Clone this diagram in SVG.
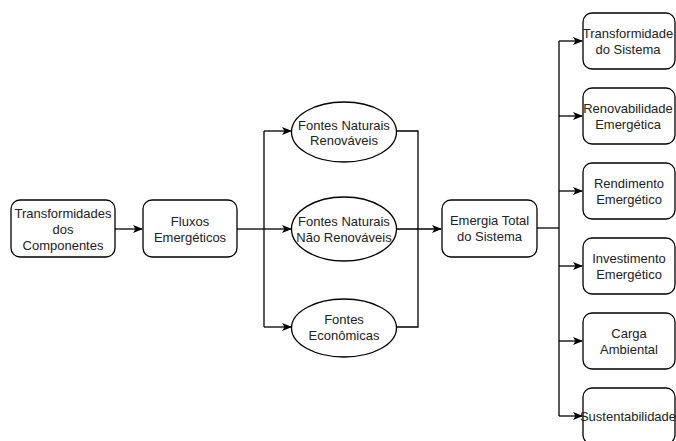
<svg xmlns="http://www.w3.org/2000/svg" width="676" height="441" viewBox="0 0 676 441">
<defs>
<marker id="arr" markerWidth="10" markerHeight="8" refX="9" refY="4" orient="auto" markerUnits="userSpaceOnUse">
<path d="M0,0 L10,4 L0,8 L2.5,4 Z" fill="#000"/>
</marker>
<style>
.box{fill:#fff;stroke:#000;stroke-width:1.3}
.t{font-family:"Liberation Sans",Arial,sans-serif;font-size:13px;fill:#222;text-anchor:middle}
.c{fill:none;stroke:#000;stroke-width:1.3}
.a{fill:none;stroke:#000;stroke-width:1.3;marker-end:url(#arr)}
</style>
</defs>
<rect width="676" height="441" fill="#fff"/>
<g id="connectors">
<path class="a" d="M115,229 H142"/>
<path class="c" d="M237,229 H264"/>
<path class="c" d="M264,131 V327"/>
<path class="a" d="M264,131 H291"/>
<path class="a" d="M264,229 H291"/>
<path class="a" d="M264,327 H291"/>
<path class="c" d="M396,131 H418 V327 H396"/>
<path class="a" d="M396,229 H441"/>
<path class="c" d="M537,228 H559"/>
<path class="c" d="M559,41 V416"/>
<path class="a" d="M559,41 H582"/>
<path class="a" d="M559,116 H582"/>
<path class="a" d="M559,191 H582"/>
<path class="a" d="M559,266 H582"/>
<path class="a" d="M559,341 H582"/>
<path class="a" d="M559,416 H582"/>
</g>
<g id="n-transformidades">
<rect class="box" x="11" y="200" width="104" height="57" rx="9"/>
<text class="t" x="63" y="218">Transformidades</text>
<text class="t" x="63" y="234">dos</text>
<text class="t" x="63" y="250">Componentes</text>
</g>
<g id="n-fluxos">
<rect class="box" x="143" y="200" width="94" height="57" rx="9"/>
<text class="t" x="190" y="225.5">Fluxos</text>
<text class="t" x="190" y="241.5">Emergéticos</text>
</g>
<g id="n-renovaveis">
<ellipse class="box" cx="344" cy="132" rx="52.5" ry="30"/>
<text class="t" x="344" y="129.5">Fontes Naturais</text>
<text class="t" x="344" y="145">Renováveis</text>
</g>
<g id="n-naorenovaveis">
<ellipse class="box" cx="344" cy="229" rx="52.5" ry="32"/>
<text class="t" x="344" y="226">Fontes Naturais</text>
<text class="t" x="344" y="241.5">Não Renováveis</text>
</g>
<g id="n-economicas">
<ellipse class="box" cx="344" cy="328" rx="52.5" ry="29"/>
<text class="t" x="344" y="323.5">Fontes</text>
<text class="t" x="344" y="340">Econômicas</text>
</g>
<g id="n-emergia">
<rect class="box" x="442" y="200" width="95" height="57" rx="9"/>
<text class="t" x="489.5" y="225">Emergia Total</text>
<text class="t" x="489.5" y="241">do Sistema</text>
</g>
<g id="n-transformidade-sistema">
<rect class="box" x="583" y="13" width="92" height="56" rx="9"/>
<text class="t" x="628" y="37.5">Transformidade</text>
<text class="t" x="628" y="54">do Sistema</text>
</g>
<g id="n-renovabilidade">
<rect class="box" x="583" y="88" width="92" height="56" rx="9"/>
<text class="t" x="628" y="112.5">Renovabilidade</text>
<text class="t" x="628" y="129">Emergética</text>
</g>
<g id="n-rendimento">
<rect class="box" x="583" y="163" width="92" height="56" rx="9"/>
<text class="t" x="629" y="187.5">Rendimento</text>
<text class="t" x="629" y="204">Emergético</text>
</g>
<g id="n-investimento">
<rect class="box" x="583" y="238" width="92" height="56" rx="9"/>
<text class="t" x="629" y="262.5">Investimento</text>
<text class="t" x="629" y="279">Emergético</text>
</g>
<g id="n-carga">
<rect class="box" x="583" y="313" width="92" height="56" rx="9"/>
<text class="t" x="629" y="337.5">Carga</text>
<text class="t" x="629" y="354">Ambiental</text>
</g>
<g id="n-sustentabilidade">
<rect class="box" x="583" y="388" width="92" height="56" rx="9"/>
<text class="t" x="628" y="420.5">Sustentabilidade</text>
</g>
</svg>
